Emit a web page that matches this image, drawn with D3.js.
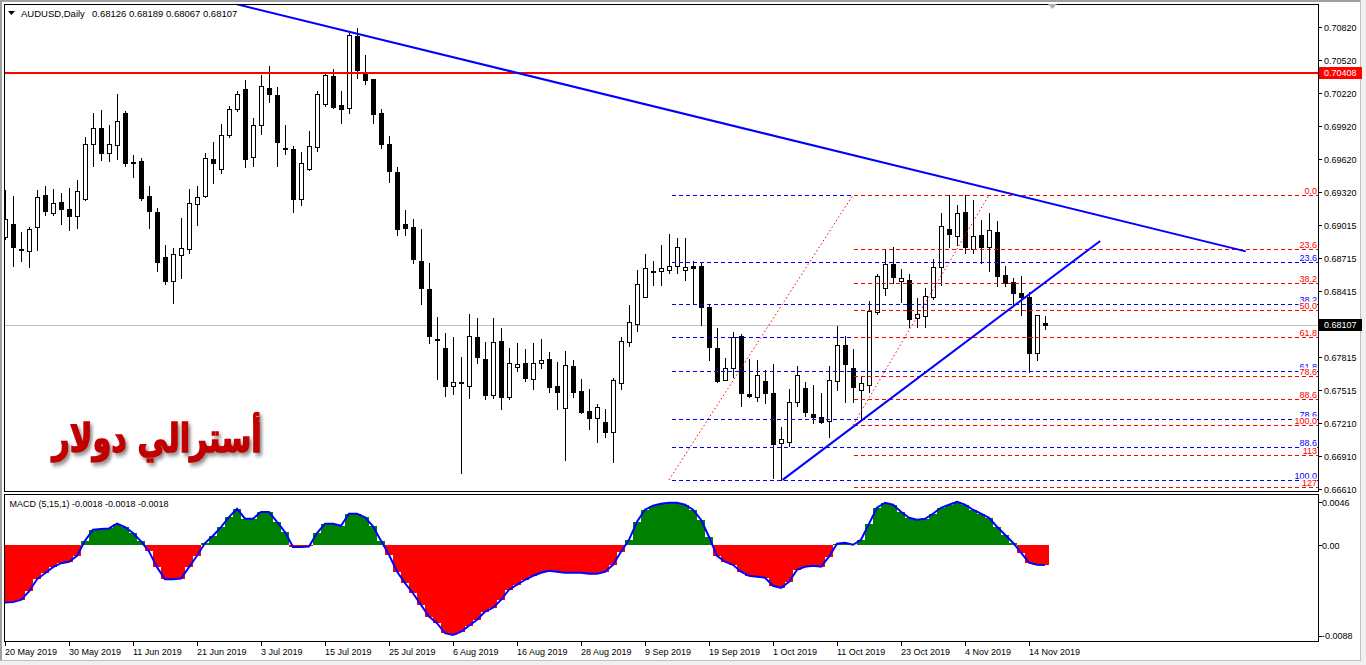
<!DOCTYPE html>
<html><head><meta charset="utf-8">
<script src="https://cdn.jsdelivr.net/npm/d3@7"></script>
<style>
html,body{margin:0;padding:0;background:#fff;overflow:hidden}
svg{display:block}
text{font-family:"Liberation Sans",Arial,sans-serif;font-size:9px;fill:#000}
</style></head><body>
<svg id="c" width="1366" height="665"></svg>
<script>
// ---------------- DATA ----------------
const symbolTitle = "AUDUSD,Daily";
const headerValues = "0.68126 0.68189 0.68067 0.68107";
const macdTitle = "MACD (5,15,1) -0.0018 -0.0018 -0.0018";
const firstDay = "2019-05-20", lastDay = "2019-11-18";
const opens = [0.68913,0.69028,0.68800,0.68785,0.68998,0.69290,0.69126,0.69226,0.69162,0.69104,
0.69253,0.69754,0.69903,0.69672,0.69745,0.70037,0.69592,0.69602,0.69281,0.69135,
0.68728,0.68512,0.68743,0.68798,0.69208,0.69286,0.69618,0.69527,0.69839,0.70073,
0.70258,0.69636,0.69928,0.70265,0.70201,0.69721,0.69709,0.69256,0.69529,0.69733,
0.70119,0.70374,0.70112,0.70082,0.70741,0.70395,0.70349,0.70037,0.69757,0.69502,
0.69028,0.69001,0.68691,0.68436,0.67978,0.67899,0.67550,0.67586,0.67550,0.67996,
0.67796,0.67473,0.67960,0.67455,0.67728,0.67759,0.67619,0.67765,0.67796,0.67550,
0.67349,0.67732,0.67504,0.67322,0.67258,0.67227,0.67136,0.67583,0.67956,0.68115,
0.68361,0.68600,0.68598,0.68607,0.68643,0.68609,0.68643,0.68643,0.68272,0.67896,
0.67607,0.67719,0.68008,0.67477,0.67449,0.67598,0.67490,0.67031,0.67040,0.67404,
0.67532,0.67295,0.67267,0.67231,0.67595,0.67926,0.67716,0.67516,0.67559,0.68224,
0.68443,0.68664,0.68512,0.68518,0.68169,0.68193,0.68366,0.68634,0.68980,0.68922,
0.69138,0.68798,0.68928,0.68822,0.68953,0.68564,0.68497,0.68397,0.68366,0.67850,
0.68126];
const highs = [0.69338,0.69283,0.68956,0.69004,0.69338,0.69375,0.69345,0.69308,0.69356,0.69429,
0.69824,0.70040,0.70067,0.69930,0.70210,0.70058,0.69657,0.69627,0.69375,0.69171,
0.68837,0.68807,0.69086,0.69345,0.69375,0.69672,0.69775,0.69939,0.70103,0.70240,
0.70340,0.69997,0.70386,0.70468,0.70274,0.69930,0.69739,0.69684,0.69876,0.70243,
0.70395,0.70440,0.70240,0.70771,0.70814,0.70568,0.70349,0.70076,0.69830,0.69550,
0.69156,0.69074,0.68983,0.68670,0.68184,0.68038,0.67996,0.67819,0.68208,0.68172,
0.67951,0.68172,0.68081,0.67896,0.67944,0.67885,0.67944,0.67981,0.67862,0.67768,
0.67869,0.67787,0.67614,0.67522,0.67389,0.67340,0.67623,0.68002,0.68290,0.68609,
0.68755,0.68691,0.68837,0.68937,0.68898,0.68898,0.68694,0.68685,0.68300,0.68078,
0.67805,0.68047,0.68026,0.67796,0.67789,0.67698,0.67753,0.67176,0.67522,0.67735,
0.67592,0.67562,0.67486,0.67735,0.68099,0.68008,0.67885,0.67644,0.68330,0.68573,
0.68800,0.68822,0.68616,0.68570,0.68351,0.68445,0.68707,0.69126,0.69293,0.69201,
0.69293,0.69247,0.69065,0.69126,0.69056,0.68646,0.68539,0.68557,0.68409,0.68199,
0.68189];
const lows = [0.68889,0.68646,0.68694,0.68634,0.68792,0.69110,0.69110,0.69028,0.68974,0.68995,
0.69250,0.69557,0.69611,0.69602,0.69621,0.69560,0.69459,0.69247,0.68995,0.68603,
0.68479,0.68309,0.68539,0.68767,0.69019,0.69277,0.69405,0.69496,0.69818,0.70058,
0.69550,0.69560,0.69846,0.70142,0.69560,0.69663,0.69138,0.69201,0.69520,0.69696,
0.70106,0.70082,0.69951,0.70042,0.70361,0.70301,0.69951,0.69718,0.69414,0.68925,
0.68928,0.68676,0.68300,0.67942,0.67616,0.67461,0.67480,0.66757,0.67446,0.67765,
0.67437,0.67446,0.67346,0.67437,0.67692,0.67601,0.67528,0.67719,0.67498,0.67346,
0.66881,0.67452,0.67309,0.67158,0.67045,0.67085,0.66863,0.67528,0.67920,0.68056,
0.68358,0.68475,0.68473,0.68585,0.68579,0.68521,0.68300,0.68108,0.67789,0.67592,
0.67605,0.67637,0.67373,0.67449,0.67419,0.67400,0.66712,0.66696,0.67009,0.67373,
0.67282,0.67218,0.67213,0.67091,0.67516,0.67410,0.67410,0.67249,0.67501,0.68208,
0.68381,0.68488,0.68321,0.68093,0.68093,0.68093,0.68342,0.68473,0.68822,0.68837,
0.68761,0.68761,0.68676,0.68603,0.68464,0.68464,0.68300,0.68199,0.67683,0.67789,
0.68067];
const closes = [0.69071,0.68822,0.68797,0.68980,0.69272,0.69150,0.69217,0.69162,0.69104,0.69329,
0.69754,0.69900,0.69672,0.69757,0.69964,0.69581,0.69588,0.69268,0.69150,0.68685,
0.68512,0.68752,0.68807,0.69217,0.69272,0.69627,0.69587,0.69839,0.70073,0.70213,
0.69623,0.69928,0.70283,0.70210,0.69778,0.69709,0.69256,0.69581,0.69739,0.70210,
0.70383,0.70097,0.70079,0.70750,0.70431,0.70343,0.70028,0.69760,0.69514,0.68980,
0.68995,0.68712,0.68448,0.68011,0.67970,0.67555,0.67586,0.67577,0.68005,0.67819,
0.67473,0.67951,0.67455,0.67759,0.67750,0.67623,0.67759,0.67787,0.67546,0.67501,
0.67741,0.67501,0.67318,0.67258,0.67359,0.67136,0.67604,0.67960,0.68133,0.68479,
0.68625,0.68597,0.68625,0.68648,0.68816,0.68639,0.68630,0.68275,0.67911,0.67598,
0.67716,0.67996,0.67490,0.67461,0.67650,0.67490,0.67022,0.67070,0.67404,0.67650,
0.67313,0.67267,0.67222,0.67604,0.67926,0.67750,0.67541,0.67577,0.68236,0.68552,
0.68664,0.68548,0.68536,0.68160,0.68206,0.68370,0.68634,0.69007,0.68935,0.69126,
0.68822,0.68919,0.68822,0.68974,0.68557,0.68494,0.68397,0.68366,0.67856,0.68197,
0.68107];
const macdValues = [-0.00525,-0.00522,-0.00502,-0.00424,-0.00312,-0.00256,-0.00200,-0.00163,-0.00151,-0.00095,
0.00043,0.00145,0.00151,0.00157,0.00202,0.00169,0.00114,0.00037,-0.00055,-0.00200,
-0.00312,-0.00312,-0.00305,-0.00200,-0.00095,0.00022,0.00089,0.00169,0.00261,0.00338,
0.00246,0.00246,0.00308,0.00308,0.00218,0.00123,-0.00015,-0.00015,-0.00009,0.00114,
0.00200,0.00200,0.00181,0.00292,0.00292,0.00258,0.00175,0.00043,-0.00086,-0.00240,
-0.00347,-0.00440,-0.00547,-0.00655,-0.00716,-0.00808,-0.00824,-0.00793,-0.00739,-0.00684,
-0.00610,-0.00574,-0.00501,-0.00408,-0.00362,-0.00316,-0.00279,-0.00251,-0.00233,-0.00242,
-0.00251,-0.00251,-0.00251,-0.00261,-0.00261,-0.00242,-0.00178,-0.00058,0.00052,0.00218,
0.00329,0.00366,0.00384,0.00393,0.00393,0.00375,0.00329,0.00237,0.00080,-0.00095,
-0.00150,-0.00178,-0.00242,-0.00279,-0.00288,-0.00297,-0.00371,-0.00390,-0.00334,-0.00224,
-0.00196,-0.00187,-0.00196,-0.00104,0.00016,0.00025,0.00006,0.00052,0.00199,0.00347,
0.00393,0.00375,0.00310,0.00255,0.00237,0.00246,0.00292,0.00347,0.00375,0.00402,
0.00375,0.00329,0.00292,0.00255,0.00172,0.00099,0.00025,-0.00067,-0.00159,-0.00178,
-0.00180];
const priceTicks = [0.70820,0.70520,0.70220,0.69920,0.69620,0.69320,0.69015,0.68715,0.68415,0.67815,0.67515,0.67210,0.66910,0.66610];
const macdTicks = [0.0046, 0.00, -0.0088];
const macdTickLabels = ["0.0046","0.00","-0.0088"];
const dateTickLabels = ["20 May 2019","30 May 2019","11 Jun 2019","21 Jun 2019","3 Jul 2019","15 Jul 2019","25 Jul 2019","6 Aug 2019","16 Aug 2019","28 Aug 2019","9 Sep 2019","19 Sep 2019","1 Oct 2019","11 Oct 2019","23 Oct 2019","4 Nov 2019","14 Nov 2019"];
const hLinePrice = 0.70408;
const lastPrice = 0.68107;
// trend lines: [barIndex, price]
const trendDown = [[29.0, 0.71030],[155.1, 0.68778]];
const trendUp = [[97.2, 0.66696],[136.9, 0.68873]];
// fibonacci retracements: anchor A (start) and B (end)
const fibBlue = {a:[83, 0.66696], b:[106, 0.69293]};
const fibBlueLevels = [0, 23.6, 38.2, 50.0, 61.8, 78.6, 88.6, 100.0];
const fibBlueLabels = ["0.0","23.6","38.2","50.0","61.8","78.6","88.6","100.0"];
const fibRed = {a:[106, 0.67195], b:[123, 0.69293]};
const fibRedLevels = [0, 23.6, 38.2, 50.0, 61.8, 78.6, 88.6, 100.0, 113, 127];
const fibRedLabels = ["0.0","23.6","38.2","50.0","61.8","78.6","88.6","100.0","113","127"];
const arabicTitle = "أسترالي دولار";

// ---------------- LAYOUT ----------------
const svg = d3.select("#c");
const L = 4, R = 1318, mainT = 4, mainB = 491, macdT = 494, macdB = 641;

const dates = d3.timeDay.range(new Date(firstDay+"T00:00:00"), d3.timeDay.offset(new Date(lastDay+"T00:00:00"),1))
  .filter(d => d.getDay() !== 0 && d.getDay() !== 6);
const x = d3.scaleLinear().domain([0, dates.length-1]).range([5, 5 + 8*(dates.length-1)]);
const y = d3.scaleLinear().domain([0.66610, 0.70820]).range([489.3, 27.3]);
const ym = d3.scaleLinear().domain([-0.0088, 0.0046]).range([641, 495.5]);

const defs = svg.append("defs");
defs.append("clipPath").attr("id","cm").append("rect").attr("x",L+1).attr("y",mainT+1).attr("width",R-L-1).attr("height",mainB-mainT-1);
defs.append("clipPath").attr("id","cd").append("rect").attr("x",L+1).attr("y",macdT+1).attr("width",R-L-1).attr("height",macdB-macdT-1);
const f = defs.append("filter").attr("id","sh").attr("x","-10%").attr("y","-30%").attr("width","130%").attr("height","170%");
f.append("feDropShadow").attr("dx",3).attr("dy",3).attr("stdDeviation",2).attr("flood-color","#000").attr("flood-opacity",0.45);

// window frame
svg.append("rect").attr("x",0).attr("y",0).attr("width",1366).attr("height",665).attr("fill","#fff");
svg.append("rect").attr("x",0).attr("y",0).attr("width",1366).attr("height",2).attr("fill","#a0a0a0");
svg.append("rect").attr("x",0).attr("y",0).attr("width",2).attr("height",665).attr("fill","#a0a0a0");
svg.append("rect").attr("x",1361).attr("y",0).attr("width",5).attr("height",665).attr("fill","#f0f0f0");
svg.append("rect").attr("x",1360).attr("y",0).attr("width",1).attr("height",660).attr("fill","#c0c0c0");
svg.append("rect").attr("x",0).attr("y",660).attr("width",1366).attr("height",5).attr("fill","#f0f0f0");
svg.append("rect").attr("x",0).attr("y",660).attr("width",1361).attr("height",1).attr("fill","#c0c0c0");

const main = svg.append("g").attr("clip-path","url(#cm)").attr("shape-rendering","crispEdges");

// current price grey line
main.append("line").attr("x1",L).attr("x2",R).attr("y1",Math.round(y(lastPrice))+0.5).attr("y2",Math.round(y(lastPrice))+0.5)
  .attr("stroke","#c0c0c0");

// candles
const idx = d3.range(dates.length);
const cg = main.append("g");
idx.forEach(i => {
  const cx = Math.round(x(i));
  const o = opens[i], c = closes[i];
  cg.append("line").attr("x1",cx+0.5).attr("x2",cx+0.5)
    .attr("y1",Math.round(y(highs[i]))).attr("y2",Math.round(y(lows[i]))+1).attr("stroke","#000");
  const top = Math.round(y(Math.max(o,c))), bot = Math.round(y(Math.min(o,c)));
  const h = Math.max(1, bot-top);
  if (c >= o) {
    if (h <= 2) cg.append("rect").attr("x",cx-2).attr("y",top).attr("width",5).attr("height",Math.max(h,1)+1).attr("fill","#000");
    else cg.append("rect").attr("x",cx-1.5).attr("y",top+0.5).attr("width",4).attr("height",h).attr("fill","#fff").attr("stroke","#000");
  } else {
    cg.append("rect").attr("x",cx-2).attr("y",top).attr("width",5).attr("height",h+1).attr("fill","#000");
  }
});

// horizontal red line
main.append("line").attr("x1",L).attr("x2",R).attr("y1",y(hLinePrice)).attr("y2",y(hLinePrice))
  .attr("stroke","#ff0000").attr("stroke-width",2);

// fibonacci
function drawFib(fib, levels, labels, color) {
  const pa = fib.a[1], pb = fib.b[1];
  const g = main.append("g");
  g.append("line").attr("x1",x(fib.a[0])).attr("y1",y(pa)).attr("x2",x(fib.b[0])).attr("y2",y(pb))
    .attr("stroke","#ff0000").attr("stroke-dasharray","1.5,2.5").attr("shape-rendering","auto");
  const x1 = Math.round(x(fib.a[0]));
  levels.forEach((lv, k) => {
    const p = pb - lv/100*(pb-pa);
    const yy = Math.round(y(p)) + 0.5;
    g.append("line").attr("x1",x1).attr("x2",R).attr("y1",yy).attr("y2",yy)
      .attr("stroke",color).attr("stroke-dasharray","4,3").attr("stroke-dashoffset", x1 % 7);
  });
  return () => levels.forEach((lv,k) => {
    const p = pb - lv/100*(pb-pa);
    const yb = Math.round(y(p)) - 1.5;
    const t = svg.append("text").attr("x",R-1).attr("y",yb).attr("text-anchor","end")
      .style("fill",color).text(labels[k]);
    const bb = t.node().getBBox();
    svg.insert("rect", () => t.node()).attr("x",bb.x-1).attr("y",yb-7).attr("width",bb.width+1).attr("height",8).attr("fill","#fff");
  });
}
const lblBlue = drawFib(fibBlue, fibBlueLevels, fibBlueLabels, "#0000ff");
const lblRed = drawFib(fibRed, fibRedLevels, fibRedLabels, "#ff0000");

// trend lines
const tl = main.append("g").attr("shape-rendering","auto");
[trendDown, trendUp].forEach(t => {
  tl.append("line").attr("x1",x(t[0][0])).attr("y1",y(t[0][1])).attr("x2",x(t[1][0])).attr("y2",y(t[1][1]))
    .attr("stroke","#0000ff").attr("stroke-width",2);
});
lblBlue(); lblRed();

// Arabic title
svg.append("text").attr("transform","translate(157,452) scale(0.76,1)").attr("text-anchor","middle")
  .style("font-family","'DejaVu Sans',sans-serif").style("font-weight","bold").style("font-size","40px")
  .style("fill","#c00000").style("stroke","#c00000").style("stroke-width","1.6px")
  .attr("filter","url(#sh)").text(arabicTitle);

// MACD panel
const md = svg.append("g").attr("clip-path","url(#cd)");
const z = ym(0);
md.selectAll("rect.h").data(idx).join("rect")
  .attr("x", i => Math.round(x(i))-4).attr("width",8)
  .attr("y", i => Math.min(z, ym(macdValues[i])))
  .attr("height", i => Math.abs(ym(macdValues[i]) - z))
  .attr("fill", i => macdValues[i] >= 0 ? "#008000" : "#ff0000")
  .attr("shape-rendering","crispEdges");
md.append("path").datum(idx)
  .attr("d", d3.line().x(i => x(i)).y(i => ym(macdValues[i])))
  .attr("fill","none").attr("stroke","#0000ff").attr("stroke-width",2);

// frames
const fr = svg.append("g").attr("shape-rendering","crispEdges").attr("fill","none").attr("stroke","#000");
fr.append("rect").attr("x",L+0.5).attr("y",mainT+0.5).attr("width",R-L).attr("height",mainB-mainT);
fr.append("rect").attr("x",L+0.5).attr("y",macdT+0.5).attr("width",R-L).attr("height",macdB-macdT);

// price axis
const ax = svg.append("g");
priceTicks.forEach(p => {
  const yy = Math.round(y(p)) + 0.5;
  ax.append("line").attr("x1",R+1).attr("x2",R+4).attr("y1",yy).attr("y2",yy).attr("stroke","#000").attr("shape-rendering","crispEdges");
  ax.append("text").attr("x",R+6).attr("y",yy).attr("dy","0.35em").text(d3.format(".5f")(p));
});
function priceBox(p, bg) {
  const yy = y(p);
  ax.append("rect").attr("x",R+1).attr("y",Math.round(yy)-6).attr("width",43).attr("height",12).attr("fill",bg);
  ax.append("text").attr("x",R+6).attr("y",yy).attr("dy","0.35em").style("fill","#fff").text(d3.format(".5f")(p));
}
priceBox(hLinePrice, "#ff0000");
priceBox(lastPrice, "#000000");

// macd axis
macdTicks.forEach((v,k) => {
  const yy = k===0 ? 502.5 : (k===2 ? 636 : Math.round(ym(v))+0.5);
  ax.append("line").attr("x1",R+1).attr("x2",R+4).attr("y1",yy).attr("y2",yy).attr("stroke","#000").attr("shape-rendering","crispEdges");
  ax.append("text").attr("x",R+4).attr("y",yy).attr("dy","0.35em").text(macdTickLabels[k]);
});

// date axis
const parse = d3.timeParse("%d %b %Y");
dateTickLabels.forEach(s => {
  const d = parse(s);
  const i = dates.findIndex(t => +t === +d);
  const xx = Math.round(x(i)) + 0.5;
  ax.append("line").attr("x1",xx).attr("x2",xx).attr("y1",macdB+1).attr("y2",macdB+5).attr("stroke","#000").attr("shape-rendering","crispEdges");
  ax.append("text").attr("x",xx-0.5).attr("y",655).text(s);
});

// headers
svg.append("path").attr("d","M8,11 L15,11 L11.5,15 Z").attr("fill","#000");
svg.append("text").attr("x",21).attr("y",16.5).style("font-size","9.5px").text(symbolTitle);
svg.append("text").attr("x",92).attr("y",16.5).style("font-size","9.5px").text(headerValues);
svg.append("text").attr("x",9.5).attr("y",506.5).text(macdTitle);
// chart shift marker
svg.append("path").attr("d","M1048,4 L1057,4 L1052.5,9 Z").attr("fill","#b0b0b0");
</script>
</body></html>
